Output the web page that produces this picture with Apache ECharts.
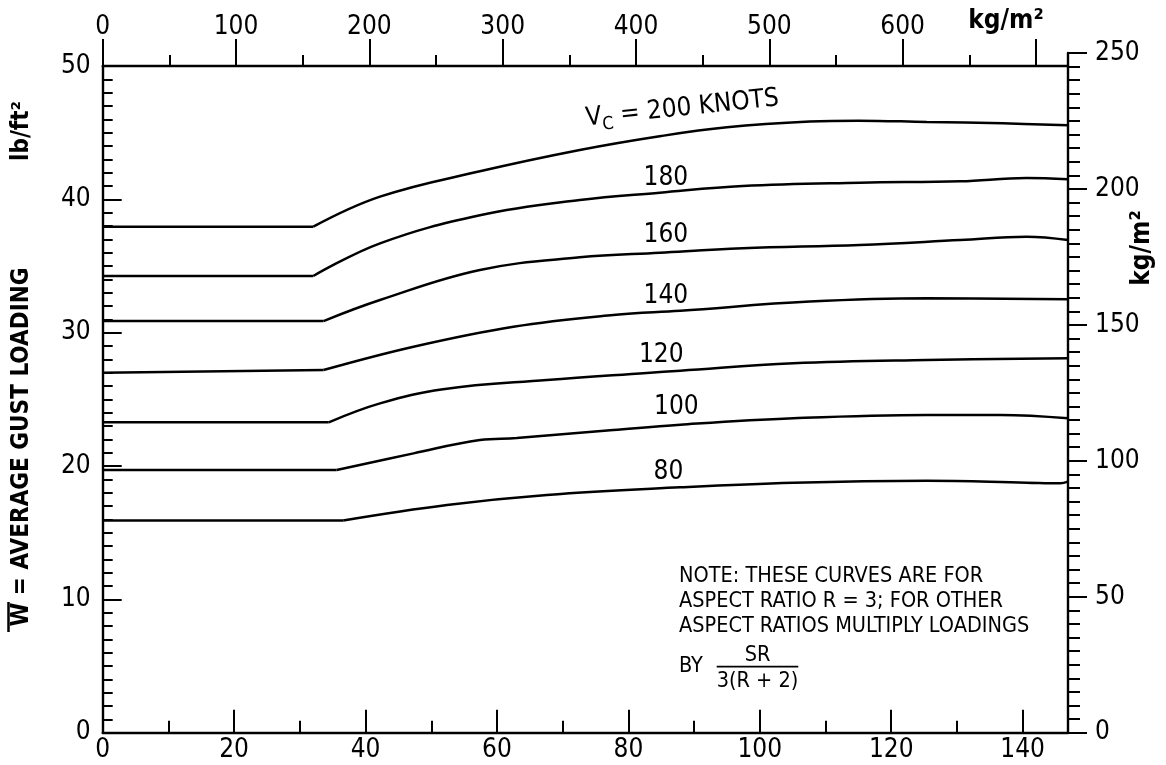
<!DOCTYPE html>
<html><head><meta charset="utf-8">
<script src="https://cdn.jsdelivr.net/npm/echarts@6/dist/echarts.min.js"></script>
<style>html,body{margin:0;padding:0;background:#fff}#c{width:1166px;height:765px}</style>
</head><body><div id="c"></div>
<script>
// ---- data (x: wing loading lb/ft^2, y: average gust loading lb/ft^2) ----
const bottomTicks = [0, 20, 40, 60, 80, 100, 120, 140];
const topTicks = [0, 100, 200, 300, 400, 500, 600];
const leftTicks = [0, 10, 20, 30, 40, 50];
const rightTicks = [0, 50, 100, 150, 200, 250];

const curve200 = [[0,37.95],[32.05,37.95],[42.2,40.2],[57.4,42.1],[72.6,43.7],[85,44.75],[95,45.4],[107.6,45.83],[115,45.9],[125.4,45.8],[137,45.7],[146.9,45.55]];
const curve180 = [[0,34.25],[32.05,34.25],[42.2,36.7],[57.4,38.8],[72.6,39.95],[84.8,40.5],[97.4,41.0],[115.2,41.25],[130.5,41.35],[140.6,41.6],[146.9,41.5]];
const curve160 = [[0,30.87],[33.6,30.87],[42.2,32.45],[57.4,34.7],[72.6,35.65],[84.8,36.0],[97.4,36.33],[115.2,36.58],[130.5,36.95],[140.6,37.2],[146.9,36.95]];
const curve140 = [[0,27.0],[33.6,27.2],[47.3,28.95],[62.5,30.45],[77.7,31.33],[87.9,31.65],[107.6,32.33],[125.4,32.58],[146.9,32.5]];
const curve120 = [[0,23.28],[34.4,23.28],[42.2,24.7],[51.8,25.76],[67.6,26.45],[82.8,26.98],[87.9,27.15],[105.1,27.7],[125.4,27.95],[146.9,28.08]];
const curve100 = [[0,19.7],[35.6,19.7],[47.3,20.95],[57.4,21.95],[63.0,22.1],[77.7,22.7],[87.9,23.1],[105.1,23.58],[125.4,23.83],[136.6,23.83],[146.9,23.58]];
const curve80  = [[0,15.92],[36.6,15.92],[52.4,17.08],[67.6,17.83],[87.9,18.4],[105.1,18.75],[125.4,18.9],[140.6,18.75],[145.7,18.7],[146.9,18.83]];

const curveLabelText = ['{v|V}{s|C}{t| = 200 KNOTS}', '180', '160', '140', '120', '100', '80'];
const curveLabelX = [88.2, 85.7, 85.7, 85.7, 85.0, 87.3, 86.1];
const curveLabelY = [46.8, 41.6, 37.33, 32.75, 28.33, 24.43, 19.55];
const curveLabelRot = [6, 0, 0, 0, 0, 0, 0];

const noteLines = ['NOTE: THESE CURVES ARE FOR', 'ASPECT RATIO R = 3; FOR OTHER', 'ASPECT RATIOS MULTIPLY LOADINGS'];

// ---- chart ----
const FONT = "'DejaVu Sans Condensed','DejaVu Sans',sans-serif";
const BLACK = '#000';
const AX_W = 2.4, TK_W = 2, LINE_W = 2.5;
const chart = echarts.init(document.getElementById('c'));

const curves = [curve200, curve180, curve160, curve140, curve120, curve100, curve80];
const series = [];
curves.forEach(c => {
  series.push({type:'line', xAxisIndex:0, yAxisIndex:0, data:c.slice(0,2), symbol:'none', silent:true,
    lineStyle:{color:BLACK, width:LINE_W}, z:3});
  series.push({type:'line', xAxisIndex:0, yAxisIndex:0, data:c.slice(1), symbol:'none', silent:true,
    smooth:0.4, lineStyle:{color:BLACK, width:LINE_W}, z:3});
});
series.push({
  type:'scatter', xAxisIndex:0, yAxisIndex:0, symbolSize:0, silent:true, z:5,
  itemStyle:{opacity:1, color:BLACK},
  data: curveLabelText.map((t,i) => ({value:[curveLabelX[i], curveLabelY[i]], label:{formatter:t, rotate:curveLabelRot[i]}})),
  label:{show:true, position:'inside', color:BLACK, opacity:1, fontSize:26, fontFamily:FONT, textBorderWidth:0,
    rich:{
      v:{fontSize:26, fontFamily:FONT, color:BLACK, lineHeight:34},
      s:{fontSize:18, fontFamily:FONT, color:BLACK, lineHeight:14, verticalAlign:'bottom'},
      t:{fontSize:26, fontFamily:FONT, color:BLACK, lineHeight:34}
    }}
});

const lbl = (extra) => Object.assign({color:BLACK, fontSize:26, fontFamily:FONT}, extra);
const tickStyle = {color:BLACK, width:TK_W};

const option = {
  backgroundColor:'#fff',
  animation:false,
  grid:[
    {left:102.7, right:98, top:66, bottom:32.3},
    {left:102.7, right:98, top:53, bottom:32.3},
    {left:102.7, right:1166-1036, top:66, bottom:32.3}
  ],
  xAxis:[
    {type:'value', gridIndex:0, position:'bottom', min:0, max:146.9, interval:20,
      axisLine:{show:true, onZero:false, lineStyle:{color:BLACK, width:AX_W}},
      axisTick:{show:true, inside:true, length:23, lineStyle:tickStyle},
      axisLabel:lbl({margin:5, formatter:v => bottomTicks.includes(v) ? String(v) : ''}),
      splitLine:{show:false}},
    {type:'value', gridIndex:0, position:'bottom', min:0, max:146.9, interval:10,
      axisLine:{show:false, onZero:false}, axisTick:{show:true, inside:true, length:12, lineStyle:tickStyle},
      axisLabel:{show:false}, splitLine:{show:false}},
    {type:'value', gridIndex:0, position:'top', min:0, max:146.9,
      axisLine:{show:true, onZero:false, lineStyle:{color:BLACK, width:AX_W}}, axisTick:{show:false},
      axisLabel:{show:false}, splitLine:{show:false}},
    {type:'value', gridIndex:1, show:false, min:0, max:1, axisLine:{onZero:false}},
    {type:'value', gridIndex:2, position:'top', min:0, max:700, interval:100,
      axisLine:{show:false, onZero:false},
      axisTick:{show:true, length:27, lineStyle:tickStyle},
      minorTick:{show:true, splitNumber:2, length:11, lineStyle:tickStyle},
      axisLabel:lbl({margin:26, formatter:v => topTicks.includes(v) ? String(v) : ''}),
      splitLine:{show:false}, minorSplitLine:{show:false}}
  ],
  yAxis:[
    {type:'value', gridIndex:0, position:'left', min:0, max:50, interval:10,
      axisLine:{show:true, onZero:false, lineStyle:{color:BLACK, width:AX_W}},
      axisTick:{show:true, inside:true, length:19, lineStyle:tickStyle},
      minorTick:{show:true, splitNumber:10, length:10, lineStyle:tickStyle},
      axisLabel:lbl({margin:12, formatter:v => leftTicks.includes(v) ? String(v) : ''}),
      splitLine:{show:false}, minorSplitLine:{show:false}},
    {type:'value', gridIndex:1, position:'right', min:0, max:250, interval:50,
      axisLine:{show:true, onZero:false, lineStyle:{color:BLACK, width:AX_W}},
      axisTick:{show:true, length:19, lineStyle:tickStyle},
      minorTick:{show:true, splitNumber:10, length:12, lineStyle:tickStyle},
      axisLabel:lbl({margin:27, formatter:v => rightTicks.includes(v) ? String(v) : ''}),
      splitLine:{show:false}, minorSplitLine:{show:false}},
    {type:'value', gridIndex:2, show:false, min:0, max:1, axisLine:{onZero:false}}
  ],
  graphic:[
    {type:'text', x:22, y:447, rotation:Math.PI/2, silent:true,
      style:{text:'W = AVERAGE GUST LOADING', fontSize:24, fontWeight:'bold', fontFamily:FONT, fill:BLACK, align:'center', verticalAlign:'middle'}},
    {type:'line', silent:true, shape:{x1:8.5, y1:602, x2:8.5, y2:632}, style:{stroke:BLACK, lineWidth:2.5}},
    {type:'text', x:22, y:131, rotation:Math.PI/2, silent:true,
      style:{text:'lb/ft²', fontSize:24, fontWeight:'bold', fontFamily:FONT, fill:BLACK, align:'center', verticalAlign:'middle'}},
    {type:'text', x:1142, y:248, rotation:Math.PI/2, silent:true,
      style:{text:'kg/m²', fontSize:26, fontWeight:'bold', fontFamily:FONT, fill:BLACK, align:'center', verticalAlign:'middle'}},
    {type:'text', x:1006, y:21, silent:true,
      style:{text:'kg/m²', fontSize:26, fontWeight:'bold', fontFamily:FONT, fill:BLACK, align:'center', verticalAlign:'middle'}},
    {type:'text', x:679, y:576.7, silent:true, style:{text:noteLines[0], fontSize:21.5, fontFamily:FONT, fill:BLACK, align:'left', verticalAlign:'middle'}},
    {type:'text', x:679, y:601.7, silent:true, style:{text:noteLines[1], fontSize:21.5, fontFamily:FONT, fill:BLACK, align:'left', verticalAlign:'middle'}},
    {type:'text', x:679, y:626.7, silent:true, style:{text:noteLines[2], fontSize:21.5, fontFamily:FONT, fill:BLACK, align:'left', verticalAlign:'middle'}},
    {type:'text', x:679, y:666, silent:true, style:{text:'BY', fontSize:21.5, fontFamily:FONT, fill:BLACK, align:'left', verticalAlign:'middle'}},
    {type:'text', x:757.5, y:655, silent:true, style:{text:'SR', fontSize:21.5, fontFamily:FONT, fill:BLACK, align:'center', verticalAlign:'middle'}},
    {type:'line', silent:true, shape:{x1:716.7, y1:666.7, x2:798.3, y2:666.7}, style:{stroke:BLACK, lineWidth:1.8}},
    {type:'text', x:757.5, y:681.7, silent:true, style:{text:'3(R + 2)', fontSize:21.5, fontFamily:FONT, fill:BLACK, align:'center', verticalAlign:'middle'}}
  ],
  series
};
chart.setOption(option);
</script>
</body></html>
